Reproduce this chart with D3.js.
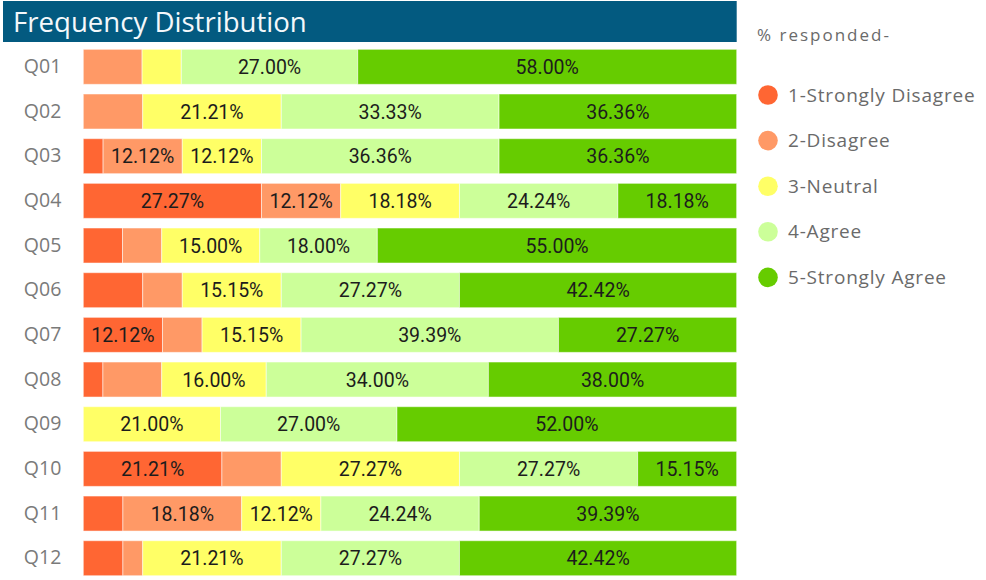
<!DOCTYPE html>
<html lang="en">
	<head>
		<title>Frequency Distribution</title>
		<meta charset="utf-8">
		<script src="https://d3js.org/d3.v7.min.js"></script>
		<style>
			body { margin: 0; background: #fff; }
		</style>
	</head>
	<body>
		<div id="plotContent"></div>
		<script>
// questions (rows)
var questions = ["Q01", "Q02", "Q03", "Q04", "Q05", "Q06", "Q07", "Q08", "Q09", "Q10", "Q11", "Q12"];

// response categories and their colours
var categories = ["1-Strongly Disagree", "2-Disagree", "3-Neutral", "4-Agree", "5-Strongly Agree"];
var colors = ["#ff6633", "#ff9966", "#ffff66", "#ccff99", "#66cc00"];

// % responded per category, one value per question
var stronglyDisagree = [0, 0, 3.03, 27.27, 6, 9.09, 12.12, 3, 0, 21.21, 6.06, 6.06];
var disagree         = [9, 9.09, 12.12, 12.12, 6, 6.06, 6.06, 9, 0, 9.09, 18.18, 3.03];
var neutral          = [6, 21.21, 12.12, 18.18, 15, 15.15, 15.15, 16, 21, 27.27, 12.12, 21.21];
var agree            = [27, 33.33, 36.36, 24.24, 18, 27.27, 39.39, 34, 27, 27.27, 24.24, 27.27];
var stronglyAgree    = [58, 36.36, 36.36, 18.18, 55, 42.42, 27.27, 38, 52, 15.15, 39.39, 42.42];

var series = [stronglyDisagree, disagree, neutral, agree, stronglyAgree];

var width = 986, height = 580;
var margin = {top: 44.5, left: 83.3, right: 249.3};

var svg = d3.select("#plotContent")
	.append("svg")
	.attr("width", width)
	.attr("height", height);

// title bar
svg.append("rect")
	.attr("x", 3)
	.attr("y", 1)
	.attr("width", width - margin.right - 3)
	.attr("height", 41)
	.style("fill", "#035a80");

svg.append("text")
	.attr("x", 13)
	.attr("y", 32)
	.style("font-family", "'Open Sans', sans-serif")
	.style("font-size", "27.6px")
	.style("fill", "#f4f8fb")
	.text("Frequency Distribution");

// build stacked table
var table = questions.map(function (q, i) {
	var row = {q: q};
	categories.forEach(function (c, j) { row[c] = series[j][i]; });
	return row;
});
var stacked = d3.stack().keys(categories)(table);

var x = d3.scaleLinear()
	.domain([0, 100])
	.range([margin.left, width - margin.right]);

var y = d3.scaleBand()
	.domain(questions)
	.range([margin.top, margin.top + 12 * 44.67])
	.paddingInner(0.2165)
	.paddingOuter(0.108);

// y axis labels
var yAxis = svg.append("g")
	.attr("transform", "translate(" + (margin.left - 22) + ",0)")
	.call(d3.axisLeft(y).tickSize(0).tickPadding(0));
yAxis.select(".domain").remove();
yAxis.selectAll("text")
	.style("font-family", "'Open Sans', sans-serif")
	.style("font-size", "19.5px")
	.style("fill", "#7a7a7a");

// bars
var layer = svg.append("g")
	.selectAll("g")
	.data(stacked)
	.enter()
	.append("g")
	.style("fill", function (d, i) { return colors[i]; });

layer.selectAll("rect")
	.data(function (d) { return d; })
	.enter()
	.append("rect")
	.attr("x", function (d) { return x(d[0]); })
	.attr("y", function (d) { return y(d.data.q); })
	.attr("width", function (d) { return x(d[1]) - x(d[0]); })
	.attr("height", y.bandwidth())
	.style("stroke", "#fff")
	.style("stroke-opacity", 0.5)
	.style("stroke-width", 1);

// segment labels
layer.selectAll("text")
	.data(function (d) { return d.filter(function (s) { return s[1] - s[0] >= 10; }); })
	.enter()
	.append("text")
	.attr("x", function (d) { return (x(d[0]) + x(d[1])) / 2; })
	.attr("y", function (d) { return y(d.data.q) + y.bandwidth() / 2; })
	.attr("dy", "0.36em")
	.attr("text-anchor", "middle")
	.style("font-family", "Roboto, sans-serif")
	.style("font-size", "19.5px")
	.style("fill", "#1c1c1c")
	.text(function (d) { return d3.format(".2f")(d[1] - d[0]) + "%"; });

// legend
var legend = svg.append("g")
	.attr("transform", "translate(757,0)");

legend.append("text")
	.attr("x", 0)
	.attr("y", 40.5)
	.style("font-family", "'Open Sans', sans-serif")
	.style("font-size", "17px")
	.style("letter-spacing", "2px")
	.style("fill", "#6a6a6a")
	.text("% responded-");

var item = legend.selectAll(".item")
	.data(categories)
	.enter()
	.append("g")
	.attr("class", "item")
	.attr("transform", function (d, i) { return "translate(0," + (95 + i * 45.6) + ")"; });

item.append("circle")
	.attr("cx", 11)
	.attr("cy", 0)
	.attr("r", 9.8)
	.style("fill", function (d, i) { return colors[i]; });

item.append("text")
	.attr("x", 31)
	.attr("y", 0)
	.attr("dy", "0.35em")
	.style("font-family", "'Open Sans', sans-serif")
	.style("font-size", "19px")
	.style("letter-spacing", "0.8px")
	.style("fill", "#6a6a6a")
	.text(function (d) { return d; });
		</script>
	</body>
</html>
